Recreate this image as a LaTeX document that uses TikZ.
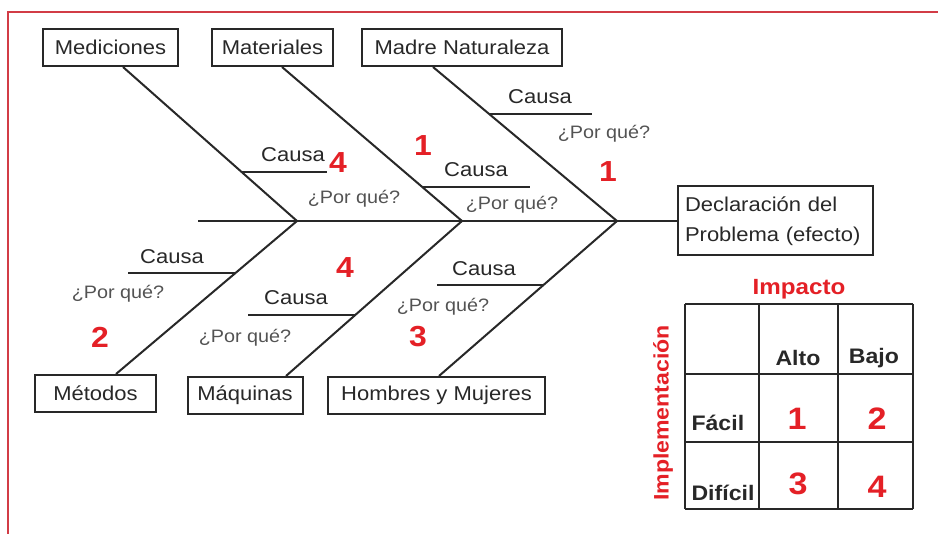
\documentclass[tikz,border=0pt]{standalone}
\usepackage{fontspec}
\setmainfont{Liberation Sans}[FakeStretch=1.1]
\usetikzlibrary{calc}
\definecolor{numred}{RGB}{228,32,38}
\definecolor{framered}{RGB}{210,60,70}
\definecolor{ink}{RGB}{40,40,40}
\tikzstyle{category} = [rectangle, draw=ink, line width=2pt, inner sep=0pt, minimum height=37pt, text=ink, font=\fontsize{20}{24}\selectfont]
\tikzstyle{bone} = [draw=ink, line width=2pt]
\tikzstyle{cause} = [text=ink, font=\fontsize{20}{24}\selectfont]
\tikzstyle{why} = [text=ink!80, font=\fontsize{18}{22}\selectfont]
\tikzstyle{rank} = [text=numred, font=\fontsize{29}{32}\selectfont\bfseries]
\tikzstyle{cell} = [text=ink, font=\fontsize{21}{24}\selectfont\bfseries]
\tikzstyle{cellnum} = [text=numred, font=\fontsize{31}{34}\selectfont\bfseries]

\begin{document}
\begin{tikzpicture}[x=1pt, y=-1pt]
\useasboundingbox (0,0) rectangle (938,534);
% Frame
\draw [framered, line width=2pt] (8,545) -- (8,12) -- (945,12);

% Categories (top row)
\node (med) [category, minimum width=135pt] at (110.5,47.5) {Mediciones};
\node (mat) [category, minimum width=121pt] at (272.5,47.5) {Materiales};
\node (madre) [category, minimum width=200pt] at (462,47.5) {Madre Naturaleza};
% Categories (bottom row)
\node (metodos) [category, minimum width=121pt] at (95.5,393.5) {Métodos};
\node (maquinas) [category, minimum width=115pt] at (245,395.5) {Máquinas};
\node (hombres) [category, minimum width=217pt] at (436.5,395.5) {Hombres y Mujeres};

% Head of the fish
\node (efecto) [rectangle, draw=ink, line width=2pt, inner sep=7pt, text width=181pt, minimum height=69pt, align=left, text=ink, font=\fontsize{20}{30}\selectfont] at (775.5,221) {Declaración del\\Problema (efecto)};

% Spine
\coordinate (tail) at (198,221);
\coordinate (j1) at (297,221);
\coordinate (j2) at (462,221);
\coordinate (j3) at (617,221);
\draw [bone] (tail) -- (efecto.west);

% Bones
\draw [bone] (j1) -- ([xshift=12.5pt]med.south);
\draw [bone] (j2) -- ([xshift=9.5pt]mat.south);
\draw [bone] (j3) -- ([xshift=-29pt]madre.south);
\draw [bone] (j1) -- ([xshift=20.5pt]metodos.north);
\draw [bone] (j2) -- ([xshift=41pt]maquinas.north);
\draw [bone] (j3) -- ([xshift=2.5pt]hombres.north);

% Causes on each bone
\coordinate (c1) at ($(j1)!0.316!([xshift=12.5pt]med.south)$);
\coordinate (c2) at ($(j2)!0.219!([xshift=9.5pt]mat.south)$);
\coordinate (c3) at ($(j3)!0.697!([xshift=-29pt]madre.south)$);
\coordinate (c4) at ($(j1)!0.338!([xshift=20.5pt]metodos.north)$);
\coordinate (c5) at ($(j2)!0.609!([xshift=41pt]maquinas.north)$);
\coordinate (c6) at ($(j3)!0.41!([xshift=2.5pt]hombres.north)$);
\draw [bone] (c1) -- ++(85,0);
\draw [bone] (c2) -- ++(107,0);
\draw [bone] (c3) -- ++(103,0);
\draw [bone] (c4) -- ++(-108,0);
\draw [bone] (c5) -- ++(-107,0);
\draw [bone] (c6) -- ++(-107,0);

\node (cau1) [cause] at (293,155) {Causa};
\node (cau2) [cause] at (476,170) {Causa};
\node (cau3) [cause] at (540,97) {Causa};
\node (cau4) [cause] at (172,257) {Causa};
\node (cau5) [cause] at (296,298) {Causa};
\node (cau6) [cause] at (484,269) {Causa};

\node (why1) [why] at (354,199) {¿Por qué?};
\node (why2) [why] at (512,205) {¿Por qué?};
\node (why3) [why] at (604,134) {¿Por qué?};
\node (why4) [why] at (118,294) {¿Por qué?};
\node (why5) [why] at (245,338) {¿Por qué?};
\node (why6) [why] at (443,307) {¿Por qué?};

\node (r1) [rank] at (338,163) {4};
\node (r2) [rank] at (423,146) {1};
\node (r3) [rank] at (608,172) {1};
\node (r4) [rank] at (100,337) {2};
\node (r5) [rank] at (345,268) {4};
\node (r6) [rank] at (418,337) {3};

% Priority table
\foreach \x in {685,759,838,913}
  \draw [bone] (\x,304) -- (\x,509);
\foreach \y in {304,374,442,509}
  \draw [bone] (685,\y) -- (913,\y);
\node (impacto) [text=numred, font=\fontsize{22}{24}\selectfont\bfseries] at (799,289) {Impacto};
\node (implem) [rotate=90, text=numred, font=\fontsize{21}{24}\selectfont\bfseries] at (663,413) {Implementación};
\node (alto) [cell] at (798,358) {Alto};
\node (bajo) [cell] at (874,358) {Bajo};
\node (facil) [cell, anchor=west] at (688,423) {Fácil};
\node (dificil) [cell, anchor=west] at (688,493) {Difícil};
\node (n1) [cellnum] at (797,419) {1};
\node (n2) [cellnum] at (877,419) {2};
\node (n3) [cellnum] at (798,484) {3};
\node (n4) [cellnum] at (877,487) {4};
\end{tikzpicture}
\end{document}
